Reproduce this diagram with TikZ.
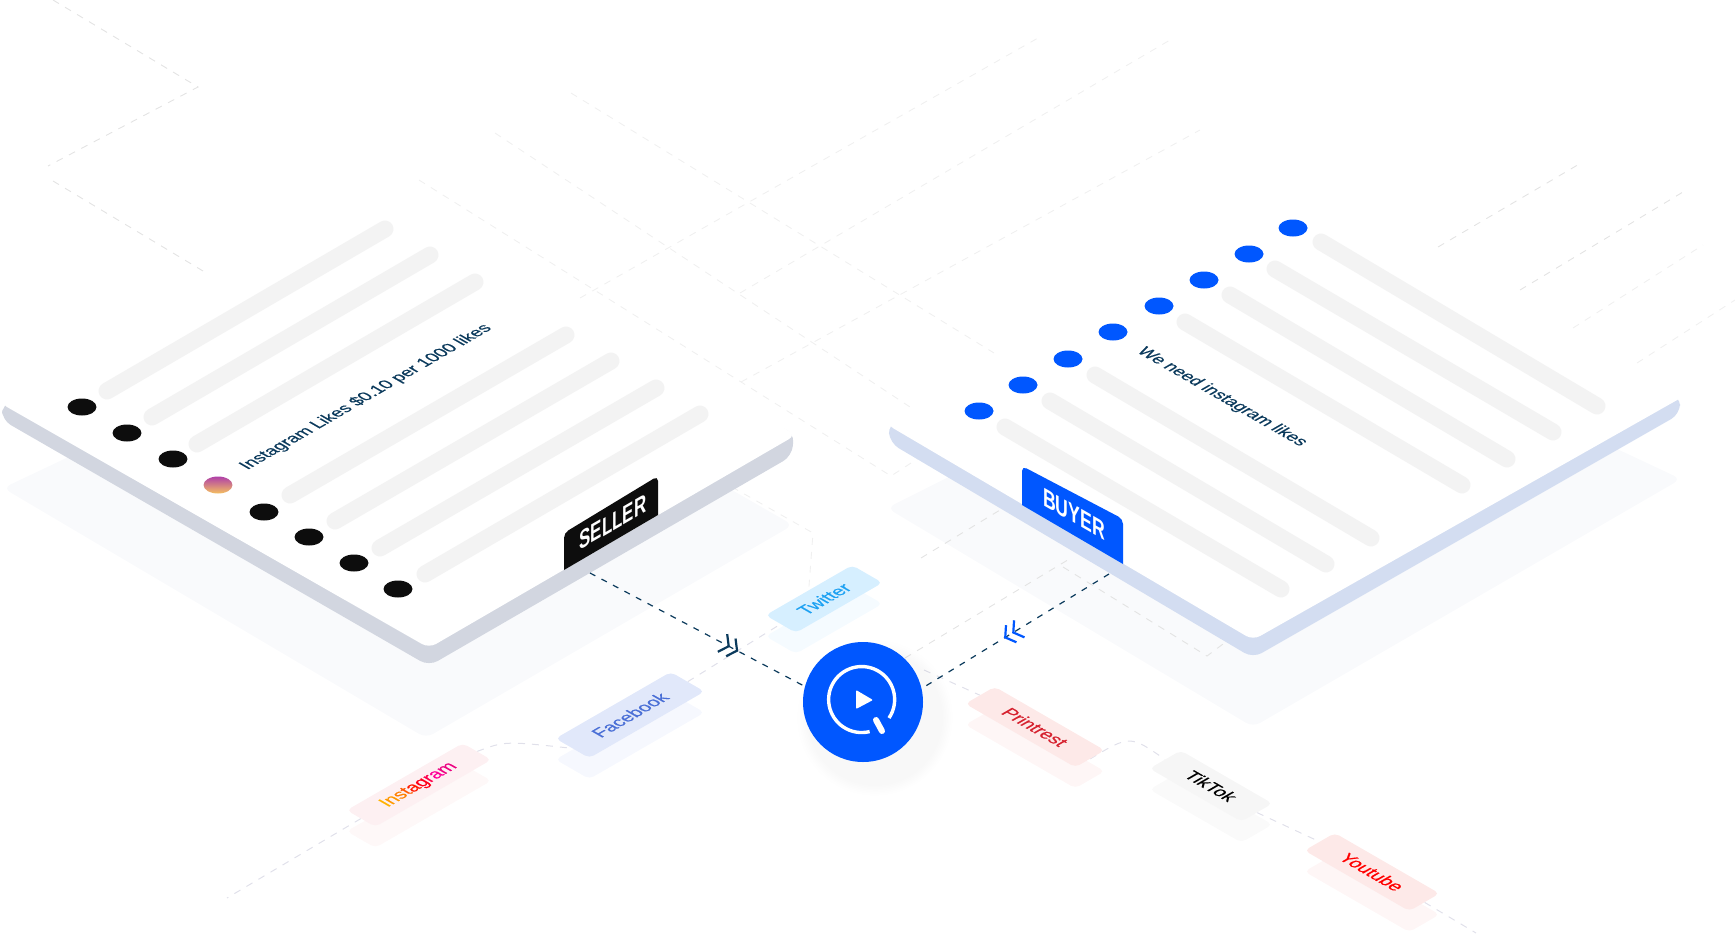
\documentclass[tikz,border=0pt]{standalone}
\usepackage{fontspec}
\setmainfont{Liberation Sans}
\newfontfamily\medfont[FakeBold=0.25]{Liberation Sans}
\usetikzlibrary{%
  arrows.meta
 ,shapes.geometric
 ,backgrounds
 ,shadows
 ,fadings
 ,decorations.markings
}
\definecolor{hubblue}{HTML}{0057FF}
\definecolor{inkblue}{HTML}{0B3A5C}
\definecolor{barcol}{HTML}{F3F3F3}
\definecolor{floorcol}{HTML}{F9FAFC}
\definecolor{sideleft}{HTML}{D2D6E0}
\definecolor{sideright}{HTML}{D3DDF1}
\definecolor{twfill}{HTML}{D6EFFF}
\definecolor{twtext}{HTML}{1DA1F2}
\definecolor{fbfill}{HTML}{E1E8FA}
\definecolor{fbtext}{HTML}{4A6FD6}
\definecolor{igfill}{HTML}{FDF0F2}
\definecolor{igtop}{HTML}{B040A8}
\definecolor{igbot}{HTML}{F5C060}
\definecolor{prfill}{HTML}{FDE9E8}
\definecolor{prtext}{HTML}{D6222F}
\definecolor{ttfill}{HTML}{F6F6F6}
\tikzstyle{isol}=[transform shape,cm={.866,.5,-.866,.5,(0,0)}]
\tikzstyle{isor}=[transform shape,cm={.866,-.5,.866,.5,(0,0)}]
\tikzstyle{bar}=[line width=17pt,line cap=round,barcol]
\tikzstyle{bdot}=[ellipse,inner sep=0,minimum width=29,minimum height=17]
\tikzstyle{sdot}=[bdot,fill=black!95]
\tikzstyle{pdot}=[bdot,fill=hubblue]
\tikzstyle{board}=[rounded corners=8pt]
\tikzstyle{lbl}=[inkblue,font=\medfont\fontsize{17.3}{20}\selectfont]
\tikzstyle{tagbox}=[rectangle,rounded corners=5pt,inner sep=0,font=\medfont\fontsize{18.2}{22}\selectfont]
\tikzstyle{faint}=[line width=.9pt,dash pattern=on 7pt off 7pt,black!11]
\tikzstyle{pale}=[line width=.9pt,dash pattern=on 7pt off 7pt,black!6]
\tikzstyle{link}=[line width=1pt,dash pattern=on 7pt off 7pt,blue!30!black!12]
\tikzstyle{flow}=[line width=1.2pt,dash pattern=on 6pt off 7pt,inkblue]
\begin{document}
\begin{tikzpicture}[x=1pt,y=-1pt]
      \useasboundingbox (0,0) rectangle (1735,935);
      % seller board
      \fill[sideleft,rounded corners=10pt] (2,404) -- (2,420) -- (429,666) -- (792,456) -- (794,432) -- (370,300) -- cycle;
      \fill[white,board] (0,403) -- (429,648) -- (796,435) -- (370,191) -- cycle;
      \draw[bar] (107,391) -- (385,229);
      \draw[bar] (152,417) -- (430,255);
      \draw[bar] (197,444) -- (475,282);
      \draw[bar] (290,495) -- (566,335);
      \draw[bar] (335,521) -- (611,361);
      \draw[bar] (380,548) -- (656,388);
      \draw[bar] (425,574) -- (700,414);
      \node[sdot] (l_1) at (82,407) {};
      \node[sdot] (l_2) at (127,433) {};
      \node[sdot] (l_3) at (173,459) {};
      \node[bdot,top color=igtop,bottom color=igbot] (l_4) at (218,485) {};
      \node[sdot] (l_5) at (264,512) {};
      \node[sdot] (l_6) at (309,537) {};
      \node[sdot] (l_7) at (354,563) {};
      \node[sdot] (l_8) at (398,589) {};
      \node[lbl,isol] (offer) at (366,397) {Instagram Likes \$0.10 per 1000 likes};
      \fill[black!95] (564,570) [rounded corners=5pt] -- (564,533) -- (658,476) [sharp corners] -- (658,515) -- cycle;
      \node[white,transform shape,cm={.65,.375,0,1,(0,0)},font=\fontsize{26}{30}\selectfont\bfseries] (seller) at (613,522) {SELLER};
      % buyer board
      \fill[sideright,rounded corners=10pt] (888,424) -- (890,443) -- (1253,658) -- (1680,414) -- (1680,396) -- (1306,300) -- cycle;
      \fill[white,board] (886,424) -- (1253,640) -- (1686,395) -- (1306,179) -- cycle;
      \draw[bar] (1321,242) -- (1597,406);
      \draw[bar] (1275,269) -- (1553,432);
      \draw[bar] (1230,295) -- (1507,459);
      \draw[bar] (1185,322) -- (1462,485);
      \draw[bar] (1095,375) -- (1371,538);
      \draw[bar] (1050,401) -- (1326,564);
      \draw[bar] (1005,427) -- (1281,589);
      \node[pdot] (r_1) at (1293,228) {};
      \node[pdot] (r_2) at (1249,254) {};
      \node[pdot] (r_3) at (1204,280) {};
      \node[pdot] (r_4) at (1159,306) {};
      \node[pdot] (r_5) at (1113,332) {};
      \node[pdot] (r_6) at (1068,359) {};
      \node[pdot] (r_7) at (1023,385) {};
      \node[pdot] (r_8) at (979,411) {};
      \node[lbl,isor] (need) at (1222,397) {We need instagram likes};
      \fill[hubblue] (1022,505) [rounded corners=5pt] -- (1022,466) -- (1123,519) [sharp corners] -- (1123,564) -- cycle;
      \node[white,transform shape,cm={.68,-.39,0,1,(0,0)},font=\fontsize{26}{30}\selectfont\bfseries] (buyer) at (1074,514) {BUYER};
      % ghost plates under the tags
      \node[tagbox,isol,fill=twfill!25,minimum width=100,minimum height=35] (tw_g) at (824,620) {};
      \node[tagbox,isol,fill=fbfill!30,minimum width=133,minimum height=39] (fb_g) at (630,736) {};
      \node[tagbox,isol,fill=igfill!50,minimum width=134,minimum height=33] (ig_g) at (419,806) {};
      \node[tagbox,isor,fill=prfill!40,minimum width=127,minimum height=34] (pr_g) at (1035,748) {};
      \node[tagbox,isor,fill=ttfill!50,minimum width=106,minimum height=36] (tt_g) at (1211,807) {};
      \node[tagbox,isor,fill=prfill!40,minimum width=121,minimum height=35] (yt_g) at (1372,893) {};
      % tags
      \node[tagbox,isol,fill=twfill,text=twtext,minimum width=100,minimum height=35] (tw) at (824,599) {Twitter};
      \node[tagbox,isol,fill=fbfill,text=fbtext,minimum width=133,minimum height=39] (fb) at (630,715) {Facebook};
      \node[tagbox,isol,fill=igfill,minimum width=134,minimum height=33] (ig) at (419,785)
        {\textcolor{orange!60!yellow}{I}\textcolor{orange!80!yellow}{n}\textcolor{orange}{s}\textcolor{orange!70!red}{t}\textcolor{red!80!orange}{a}\textcolor{red!90!magenta}{g}\textcolor{red!70!magenta}{r}\textcolor{red!40!magenta}{a}\textcolor{magenta!90!red}{m}};
      \node[tagbox,isor,fill=prfill,text=prtext,minimum width=127,minimum height=34] (pr) at (1035,727) {Printrest};
      \node[tagbox,isor,fill=ttfill,text=black,minimum width=106,minimum height=36] (tt) at (1211,786) {TikTok};
      \node[tagbox,isor,fill=prfill,text=red,minimum width=121,minimum height=35] (yt) at (1372,872) {Youtube};
      % hub
      \node[circle,fill=hubblue,inner sep=0,minimum size=120,circular drop shadow={shadow xshift=9pt,shadow yshift=-12pt,shadow scale=1.3,opacity=.06}] (hub) at (863,702) {};
      \draw[white,line width=3.4pt] (889,718) arc[start angle=34,delta angle=-318,radius=33];
      \draw[white,line width=6pt,line cap=round] (876,720) -- (882,731);
      \fill[white,rounded corners=1pt] (856,690) -- (856,709) -- (873,700) -- cycle;
      % free ends
      \coordinate (sellerfoot) at (590,573);
      \coordinate (buyerfoot) at (1109,574);
      \coordinate (igend) at (227,898);
      \coordinate (ytend) at (1476,933);
      \coordinate (prstart) at (924,670);
      \begin{scope}[on background layer]
        \fill[floorcol,rounded corners=8pt] (3,488) -- (426,738) -- (793,525) -- (400,300) -- cycle;
        \fill[floorcol,rounded corners=8pt] (887,508) -- (1253,727) -- (1681,479) -- (1300,300) -- cycle;
        % dashed floor grid
        \draw[faint] (53,0) -- (198,87) -- (48,166);
        \draw[faint] (53,181) -- (208,274);
        \draw[pale] (419,180) -- (891,476) -- (925,454);
        \draw[pale] (495,133) -- (910,407);
        \draw[pale] (571,93) -- (994,353);
        \draw[pale] (580,298) -- (1038,38);
        \draw[pale] (740,293) -- (1170,40);
        \draw[pale] (741,382) -- (1200,130);
        \draw[faint] (1438,247) -- (1581,163);
        \draw[faint] (1520,290) -- (1683,192);
        \draw[pale] (1573,328) -- (1703,245);
        \draw[pale] (1637,363) -- (1735,300);
        \draw[faint] (921,558) -- (1000,510);
        \draw[faint] (905,658) -- (1071,558);
        \draw[faint] (1063,567) -- (1207,656) -- (1223,644);
        \draw[pale] (732,487) -- (813,533) -- (tw.north);
        % tag links
        \draw[link] (fb.east) -- (tw.west);
        \draw[link] (ig.east) .. controls (505,741) .. (fb.west);
        \draw[link] (ig.west) -- (igend);
        \draw[link] (prstart) -- (pr.west);
        \draw[link] (pr.east) .. controls (1130,735) .. (tt.west);
        \draw[link] (tt.east) -- (yt.west);
        \draw[link] (yt.east) -- (ytend);
      \end{scope}
      % flows to the hub
      \draw[flow,postaction={decorate},decoration={markings,mark=at position .69 with {\arrow[inkblue,line width=2.2pt,solid]{Straight Barb[length=7pt,width=20pt] Straight Barb[length=7pt,width=20pt]}}}] (sellerfoot) -- (hub.165);
      \draw[flow,postaction={decorate},decoration={markings,mark=at position .56 with {\arrow[hubblue,line width=2.2pt,solid]{Straight Barb[length=7pt,width=20pt] Straight Barb[length=7pt,width=20pt]}}}] (buyerfoot) -- (hub.13);
\end{tikzpicture}
\end{document}
